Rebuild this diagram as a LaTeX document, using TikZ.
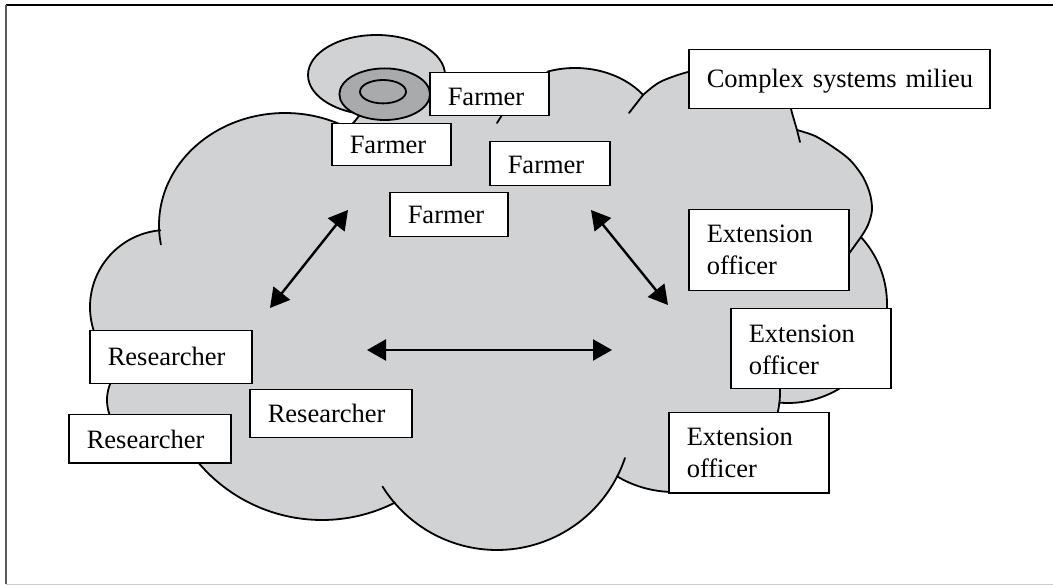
\documentclass[tikz,border=0pt]{standalone}
\usepackage{fontspec}
\setmainfont{Liberation Serif}
\usetikzlibrary{arrows.meta}

\definecolor{cloudgray}{HTML}{D1D2D4}
\definecolor{ringgray}{HTML}{A9AAAC}

\tikzset{
  cloud/.style={fill=cloudgray, draw=black, line width=1.8pt, line join=round},
  cloud edge/.style={draw=black, line width=1.8pt, line cap=round},
  arcplot/.style={samples=40, variable=\t, smooth},
  blob/.style={draw=black, line width=1.8pt},
  label box/.style={draw=black, line width=1.5pt, fill=white, rectangle,
    anchor=north west, inner xsep=18pt, inner ysep=0pt, align=left,
    font=\fontsize{26.5}{32}\selectfont, text width=#1},
  link/.style={line width=2.4pt,
    {Triangle[length=19pt,width=21pt]}-{Triangle[length=19pt,width=21pt]}},
  frame line/.style={line width=1.5pt}
}

\begin{document}
\begin{tikzpicture}[x=1pt,y=-1pt]
\useasboundingbox (0,0) rectangle (1053,585);

% page frame
\draw[frame line, black] (6,5) -- (1053,5);
\draw[frame line, black!65] (6,5) -- (6,584);
\draw[line width=1pt, black!20] (6,584) -- (1053,584);

% the cloud (milieu), built lobe by lobe, clockwise from the left cusp
\path[cloud]
  plot[arcplot, domain=177:300] ({285+126*cos(\t)},{225+112*sin(\t)})
  -- plot[smooth] coordinates {(348,128) (355,121) (362,113) (380,100) (420,92) (470,95) (505,93) (527,82) (548,72)}
  -- plot[arcplot, domain=251.5:323] ({575+85*cos(\t)},{135+67*sin(\t)})
  -- plot[smooth] coordinates {(643,95) (660,82) (688,72) (730,64) (770,78) (788,100) (792,113) (797,130)}
  -- plot[smooth] coordinates {(797,130) (815,136) (833,147) (850,160) (863,177) (870,194) (872,210) (868,225) (861,237)}
  -- plot[arcplot, domain=-42.5:94.6] ({788+99*cos(\t)},{304+99*sin(\t)})
  -- plot[arcplot, domain=6.3:122.4] ({674+106*cos(\t)},{392+100*sin(\t)})
  -- plot[arcplot, domain=27.3:139.2] ({497+135*cos(\t)},{415+135*sin(\t)})
  -- plot[arcplot, domain=63.3:152] ({322+162*cos(\t)},{358+162*sin(\t)})
  -- plot[arcplot, domain=49.5:230] ({150+43*cos(\t)},{400+43*sin(\t)})
  -- plot[arcplot, domain=128:265] ({167+77*cos(\t)},{307+77*sin(\t)})
  -- cycle;

% loose ends where the lobes cross
\draw[cloud edge] plot[arcplot, domain=170:177] ({285+126*cos(\t)},{225+112*sin(\t)});
\draw[cloud edge] (502,115) -- (497,123);
\draw[cloud edge] (643,95) -- (629,113);
\draw[cloud edge] (797,130) -- (800,142);
\draw[cloud edge] (861,237) -- (848,255);
\draw[cloud edge] plot[arcplot, domain=-2:6.3] ({674+106*cos(\t)},{392+100*sin(\t)});
\draw[cloud edge] plot[arcplot, domain=18.6:27.3] ({497+135*cos(\t)},{415+135*sin(\t)});
\draw[cloud edge] plot[arcplot, domain=139.2:148] ({497+135*cos(\t)},{415+135*sin(\t)});

% nested ellipses at the top
\draw[blob, fill=cloudgray] (376.5,75) ellipse [x radius=68.5, y radius=40];
\draw[blob, fill=ringgray] (384.7,94.2) ellipse [x radius=45.3, y radius=25.8];
\draw[blob, fill=ringgray] (383,91.7) ellipse [x radius=23, y radius=11.7];

% actors
\node[label box=83pt, text height=33pt, text depth=10pt] (f1) at (429,72) {Farmer};
\node[label box=83pt, text height=30pt, text depth=12pt] (f2) at (331,123) {Farmer};
\node[label box=84pt, text height=32pt, text depth=12pt] (f3) at (489,141) {Farmer};
\node[label box=82pt, text height=31pt, text depth=13pt] (f4) at (389,192) {Farmer};

\node[label box=265pt, text height=38pt, text depth=21pt] (csm) at (688,49) {\mbox{Complex systems milieu}};

\node[label box=124pt, text height=33pt, text depth=48pt] (e1) at (688,209) {Extension\\officer};
\node[label box=124pt, text height=34pt, text depth=46pt] (e2) at (730,308) {Extension\\officer};
\node[label box=124pt, text height=33pt, text depth=47pt] (e3) at (668,412) {Extension\\officer};

\node[label box=126pt, text height=35pt, text depth=18pt] (r1) at (89,330) {Researcher};
\node[label box=126pt, text height=34pt, text depth=14pt] (r2) at (68,414) {Researcher};
\node[label box=126pt, text height=33pt, text depth=15pt] (r3) at (249,389) {Researcher};

% two-way links between the groups
\coordinate (fl) at (348,210);
\coordinate (rl) at (270,308);
\coordinate (fr) at (591,210);
\coordinate (er) at (668,305);
\coordinate (rh) at (367,350);
\coordinate (eh) at (612,350);
\draw[link] (fl) -- (rl);
\draw[link] (fr) -- (er);
\draw[link] (rh) -- (eh);
\end{tikzpicture}
\end{document}
